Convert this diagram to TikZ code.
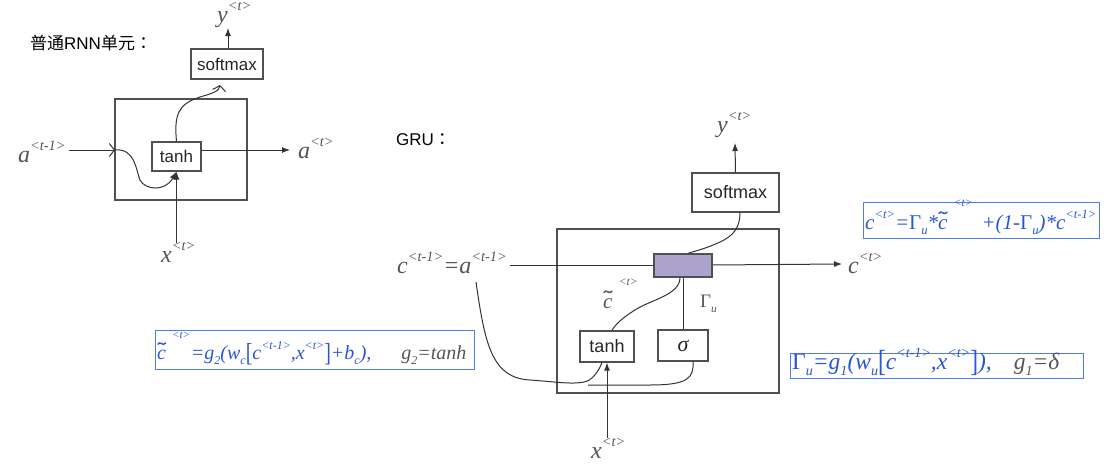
\documentclass[tikz,border=0pt]{standalone}
\usepackage{fontspec}
\setmainfont{Liberation Serif}
\setsansfont{Liberation Sans}
\newfontfamily\cjk{Noto Sans CJK SC}
\newfontfamily\cjktc{Noto Sans CJK TC}
\usetikzlibrary{arrows.meta}
\definecolor{lblc}{HTML}{555555}
\definecolor{linec}{HTML}{333333}
\definecolor{boxc}{HTML}{505050}
\definecolor{bt}{HTML}{2B55D9}
\definecolor{bb}{HTML}{4D7CF0}
\definecolor{gatec}{HTML}{ABA3CD}
\newcommand\up[1]{\raisebox{0.5em}{\scalebox{0.6}{#1}}}
\newcommand\hup[1]{\hspace{0.3em}\raisebox{1.05em}{\scalebox{0.55}{#1}}}
\newcommand\dn[1]{\raisebox{-0.28em}{\scalebox{0.6}{#1}}}
\newcommand\ctil{\leavevmode\rlap{\tikz[baseline=0pt,x=1em,y=1em]\draw[line width=0.07em,line cap=round] (0.03,0.74) .. controls (0.15,0.94) and (0.27,0.6) .. (0.42,0.8);}c}
\newcommand\Gam{{\upshape Γ}}
\newcommand\bigbr[1]{\raisebox{-0.12em}{\scalebox{1}[1.3]{\upshape #1}}}
\newcommand\lf{\fontsize{24}{24}\selectfont\itshape}
\newcommand\ff{\fontsize{20}{20}\selectfont\itshape}
\begin{document}
\begin{tikzpicture}[x=1pt,y=-1pt,
  box/.style={draw=boxc, line width=1.3pt, fill=white, inner sep=0pt,
    font=\sffamily\fontsize{17}{17}\selectfont, text=black!85},
  bigbox/.style={draw=boxc, line width=1.3pt, inner sep=0pt},
  lbl/.style={inner sep=0pt, anchor=base west, text=lblc, font=\lf},
  wire/.style={draw=linec, line width=1pt},
  arr/.style={wire, -{Latex[length=8pt,width=6pt]}},
  barb/.style={wire, -{Straight Barb[length=5pt,width=13pt,line width=1pt]}},
  fbox/.style={draw=bb, line width=1.2pt, inner sep=0pt, anchor=north west},
  ftxt/.style={inner sep=0pt, anchor=base west, text=bt, font=\ff},
  title/.style={inner sep=0pt, anchor=base west, font=\cjk\fontsize{17}{17}\selectfont, text=black}]
\useasboundingbox (0,0) rectangle (1112,474);

% ---------------- left: plain RNN ----------------
\node[title] (t1) at (30,49) {普通{\sffamily RNN}单元{\cjktc ：}};
\node[bigbox, minimum width=132, minimum height=101] (cell1) at (181,149.5) {};
\node[box, minimum width=72, minimum height=30] (sm1) at (227,64) {softmax};
\node[box, minimum width=49, minimum height=29] (th1) at (176.5,156.5) {tanh};
\node[lbl] (y1) at (217,22) {y\up{<t>}};
\node[lbl] (a0) at (18,162) {a\up{<t-1>}};
\node[lbl] (a1) at (298,158) {a\up{<t>}};
\node[lbl] (x1) at (161,262) {x\up{<t>}};
\coordinate (p1) at (115,150);
\coordinate (q1) at (220,85);

\draw[arr] (sm1.north -| 228,0) -- (228,28);
\draw[barb] (a0.east |- p1) ++(3,0) -- (p1);
\draw[arr] (p1) .. controls (135,148) and (136,170) .. (140,180)
  .. controls (145,190) and (165,192) .. (th1.south);
\draw[barb] (th1.north) .. controls (174,115) and (178,104) .. (200,97)
  .. controls (214,93) and (219,91) .. (q1);
\draw[arr] ([yshift=6.5pt]th1.east) -- (290,150);
\draw[arr] (th1.south |- 0,243) -- (th1.south);

% ---------------- right: GRU ----------------
\node[title] (t2) at (396,145) {{\sffamily GRU}{\cjktc ：}};
\node[bigbox, minimum width=222, minimum height=164] (cell2) at (668,311) {};
\node[box, minimum width=87, minimum height=39, font=\sffamily\fontsize{18}{18}\selectfont] (sm2) at (735.5,192.5) {softmax};
\node[lbl] (y2) at (717,132) {y\up{<t>}};
\node[lbl] (c0) at (397,273) {c\up{<t-1>}=a\up{<t-1>}};
\node[lbl] (c1) at (848,273) {c\up{<t>}};
\node[lbl] (x2) at (591,458) {x\up{<t>}};
\node[lbl, font=\fontsize{21}{21}\selectfont\itshape] (ct) at (603,308) {\ctil\hup{<t>}};
\node[lbl, font=\fontsize{19}{19}\selectfont] (gu) at (700,307) {\Gam\dn{\itshape u}};
\coordinate (cs) at (476,282);
\coordinate (ce) at (588,385);

\draw[wire] (c0.east |- 0,265) ++(3,0) -- (654,265);
\draw[arr] (712,265) -- (842,264);
\node[box, minimum width=58, minimum height=23, fill=gatec] (gate) at (683,265.5) {};
\node[box, minimum width=54, minimum height=31, font=\sffamily\fontsize{18}{18}\selectfont] (th2) at (607,346.5) {tanh};
\node[box, minimum width=50, minimum height=31, font=\fontsize{22}{22}\selectfont\itshape] (sg) at (683,345.5) {σ};

\draw[arr] (sm2.north) -- (735,143);
\draw[wire] ([xshift=4.5pt]sm2.south) .. controls (740,228) and (733,236) .. (720,242)
  .. controls (705,249) and (695,251) .. ([xshift=5pt]gate.north);
\draw[wire] ([xshift=-3pt]gate.south) .. controls (680,295) and (650,300) .. (635,310)
  .. controls (622,318) and (615,325) .. ([xshift=5pt]th2.north);
\draw[wire] (gate.south) -- (sg.north);
\draw[wire] (cs) .. controls (485,345) and (492,378) .. (530,380)
  .. controls (560,382) and (585,387) .. (593,377)
  .. controls (598,372) and (600,367) .. ([xshift=-5pt]th2.south);
\draw[wire] ([xshift=10pt]sg.south) .. controls (694,378) and (688,385) .. (650,385) -- (ce);
\draw[arr] (th2.south |- 0,438) -- (th2.south);

% ---------------- formula boxes ----------------
\node[fbox, minimum width=236, minimum height=36] (fb1) at (863,202) {};
\node[ftxt, font=\fontsize{21}{21}\selectfont\itshape] (f1) at (865,229)
  {c\up{<t>}=\Gam\dn{u}*\ctil\hup{<t>}\hspace{9pt}+(1-\Gam\dn{u})*c\up{<t-1>}};

\node[fbox, minimum width=319, minimum height=39] (fb2) at (155,330) {};
\node[ftxt] (f2) at (157,359)
  {\ctil\hup{<t>}\hspace{1pt}=g\dn{2}(w\dn{c}\bigbr{[}c\up{<t-1>},x\up{<t>}\bigbr{]}+b\dn{c}),\hspace{30pt}{\color{lblc}g\dn{2}=tanh}};

\node[fbox, minimum width=293, minimum height=25] (fb3) at (790,353) {};
\node[ftxt, font=\fontsize{23.5}{23.5}\selectfont\itshape] (f3) at (792,369)
  {\Gam\dn{u}=g\dn{1}(w\dn{u}\bigbr{[}c\up{<t-1>},x\up{<t>}\bigbr{]}),\hspace{22pt}{\color{lblc}g\dn{1}=δ}};
\end{tikzpicture}
\end{document}
